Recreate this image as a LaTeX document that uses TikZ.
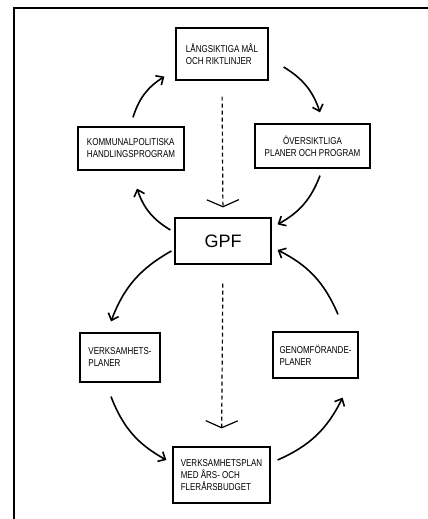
\documentclass[tikz,border=0pt]{standalone}
\usepackage{fontspec}
\usepackage{tikz}
\usetikzlibrary{arrows.meta, positioning}
\newfontfamily\handfont[FakeStretch=0.8]{Liberation Sans}
\newfontfamily\gpffont{Liberation Sans}

\begin{document}
\begin{tikzpicture}[
    x=1pt, y=1pt,
    >={Straight Barb[length=6pt,width=11pt]},
    box/.style={rectangle, draw=black, fill=white, line width=1.2pt, inner sep=3pt, align=left, font=\handfont\fontsize{10}{12}\selectfont},
    flow/.style={->, line width=1.6pt},
    dashflow/.style={-{Straight Barb[length=7pt,width=32pt]}, line width=1.2pt, dash pattern=on 4pt off 3pt}
  ]
    \useasboundingbox (0,0) rectangle (428,519);
    \draw[line width=1.8pt] (14,0) -- (14,511) -- (428,511);

    \node[box, minimum width=92pt, minimum height=52pt] (lang) at (222,465) {LÅNGSIKTIGA MÅL\\OCH RIKTLINJER};
    \node[box, minimum width=106pt, minimum height=43pt] (kom) at (131,370.5) {KOMMUNALPOLITISKA\\HANDLINGSPROGRAM};
    \node[box, align=center, minimum width=115pt, minimum height=44pt] (over) at (312.5,373) {ÖVERSIKTLIGA\\PLANER OCH PROGRAM};
    \node[box, font=\gpffont\fontsize{18}{20}\selectfont, minimum width=96pt, minimum height=46pt] (gpf) at (223,278) {GPF};
    \node[box, minimum width=80pt, minimum height=49pt] (verks) at (120,161.5) {VERKSAMHETS-\\PLANER};
    \node[box, minimum width=85pt, minimum height=46pt] (genom) at (315.5,164) {GENOMFÖRANDE-\\PLANER};
    \node[box, minimum width=97pt, minimum height=56pt] (budget) at (221.5,44) {VERKSAMHETSPLAN\\MED ÅRS- OCH\\FLERÅRSBUDGET};

    % upper cycle
    \draw[flow] ([shift={(2,9)}]kom.north) to[bend left=20] ([shift={(-11,4)}]lang.south west);
    \draw[flow] ([shift={(15,-13)}]lang.east) to[bend left=20] ([shift={(7.5,11)}]over.north);
    \draw[flow] ([shift={(7.5,-7)}]over.south) to[bend left=20] ([shift={(6,-7)}]gpf.north east);
    \draw[flow] ([shift={(-4,11)}]gpf.west) to[bend left=20] ([shift={(6,-18)}]kom.south);

    % lower cycle
    \draw[flow] ([shift={(-3,-10)}]gpf.west) to[bend right=20] ([shift={(-9,11)}]verks.north);
    \draw[flow] ([shift={(-9,-14)}]verks.south) to[bend right=20] ([shift={(-6,15)}]budget.west);
    \draw[flow] ([shift={(7,15)}]budget.east) to[bend right=20] ([shift={(-16,-19)}]genom.south east);
    \draw[flow] ([shift={(22.5,17)}]genom.north) to[bend right=20] ([shift={(6,-9)}]gpf.east);

    % dashed links
    \draw[dashflow, shorten <=16pt, shorten >=10pt] (lang.south) -- (gpf.north);
    \draw[dashflow, shorten <=19pt, shorten >=18pt] (gpf.south) -- (budget.north);
  \end{tikzpicture}
\end{document}
